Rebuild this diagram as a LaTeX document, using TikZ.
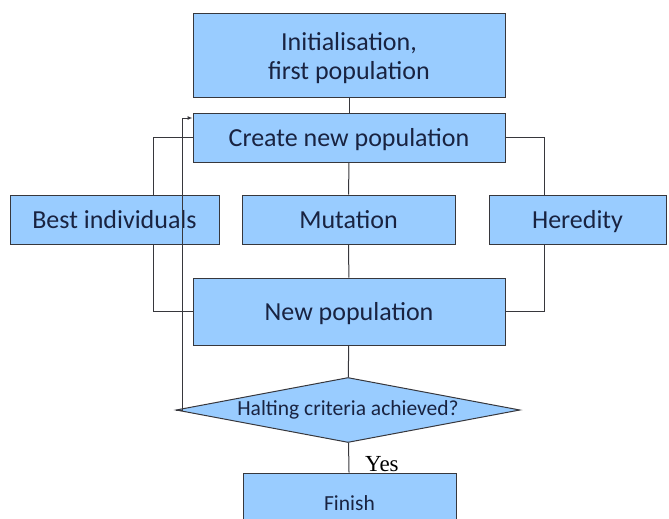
\documentclass[tikz,border=0pt]{standalone}
\usepackage{fontspec}
\setmainfont{Carlito}
\newfontfamily\yesfont{Liberation Serif}
\usetikzlibrary{positioning,arrows.meta,shapes.geometric,calc}
\definecolor{boxblue}{RGB}{153,204,255}
\definecolor{boxline}{RGB}{55,55,60}
\definecolor{boxtext}{RGB}{25,35,65}
\tikzset{
block/.style={
draw=boxline,
line width=1pt,
fill=boxblue,
text=boxtext,
align=center,
inner sep=0pt,
text depth=0pt,
font=\fontsize{26}{29}\selectfont
},
decision/.style={
draw=boxline,
line width=1pt,
fill=boxblue,
text=boxtext,
diamond,
aspect=5.3,
inner sep=0pt,
minimum width=344pt,
minimum height=65pt,
font=\fontsize{21.5}{24}\selectfont
},
link/.style={
draw=boxline,
line width=1pt
},
arrow/.style={
-{Latex[length=5pt,width=4pt]},
link
}
}
\begin{document}
\begin{tikzpicture}[x=1pt,y=-1pt]
\useasboundingbox (0,0) rectangle (669,519);
\node[block,minimum width=312pt,minimum height=83pt](init) at (349,55.5){Initialisation,\\first population};
\node[block,minimum width=312pt,minimum height=49pt](create) at (349,137.5){Create new population};
\node[block,minimum width=209pt,minimum height=49pt](best) at (114.5,219.5){Best individuals};
\node[block,minimum width=213pt,minimum height=49pt](mut) at (348.5,219.5){Mutation};
\node[block,minimum width=177pt,minimum height=49pt](her) at (577.5,219.5){Heredity};
\node[block,minimum width=312pt,minimum height=67pt](newpop) at (349,311.5){New population};
\node[decision](halt) at (348,410){Halting criteria achieved?};
\node[block,minimum width=213pt,minimum height=60pt,font=\fontsize{21.5}{24}\selectfont](fin) at (349.5,503){Finish};
\node[font=\yesfont\fontsize{23}{26}\selectfont,anchor=base west,inner sep=0pt](yes) at (365,471){Yes};

\coordinate (lx) at (153,0);
\coordinate (rx) at (544,0);
\coordinate (lp) at (182,118);

% middle column
\foreach \x/\y in {init/create,create/mut,mut/newpop,newpop/halt,halt/fin}
\draw[link](\x)--(\y);

% side branches
\draw[link](create.west)-|(best.north -| lx);
\draw[link](best.south -| lx)|-(newpop.west);
\draw[link](create.east)-|(her.north -| rx);
\draw[link](her.south -| rx)|-(newpop.east);

% loop back
\draw[arrow](halt.west)-|(lp)--(lp -| create.west);
\end{tikzpicture}
\end{document}
